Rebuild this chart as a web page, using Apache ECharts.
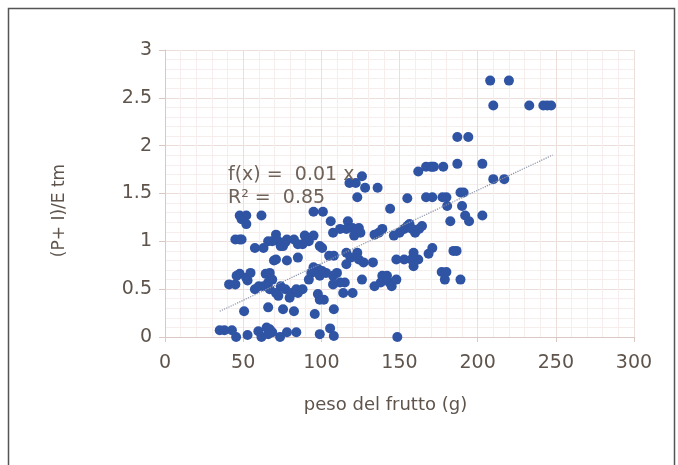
<!DOCTYPE html>
<html><head><meta charset="utf-8">
<script src="https://cdn.jsdelivr.net/npm/echarts@6/dist/echarts.min.js"></script>
<style>html,body{margin:0;padding:0;background:#fff}#c{width:678px;height:465px}</style>
</head><body><div id="c"></div>
<script>
// Fruit weight (g)
const pesoX = [
208,220,210,233,242,244.5,247,187,194,203,187,210,217,162,167,170,171,172,178,203,
189,191,190,180.5,192,194.5,182.5,167,171,177.5,180,155,144,171,168.6,184.5,186.5,177,180,179,
189,159,162,159,157.5,148,153,150,153,155,156.4,158,160,162.5,164.4,146.4,139,136.7,134,139,
142,138,143.6,145,134,148,133,127,126,136,128,126,118,122,123,117,124,120,116,112,
107.5,121,125,106,101,95,116,123,118.6,124,116,105,108,114,120,115,112,107.5,110,107.5,
103,100.5,99,97.8,95,93.6,92,99,101.6,97.8,108,95.8,99,105.6,108,89.4,95,92,99,100.5,
85,88,78,82.5,75.5,71,72.5,74,77,68.6,57.5,63,66,45,47.8,49,47.8,52,49,52,
61.7,45.8,47.8,52,54.7,41,45,50.6,52.8,57.5,60,63,64.4,67,68.6,66,67,71,72.5,74,
77,71,69.7,78,75.5,66,81,84,85,88,82.5,79.7,85,35,38,42.8,45.5,52.8,59.7,61.7,
65,67,68.6,66,73.6,78,84,148.6
];
// (P+ I)/E tm
const rapportoY = [
2.68,2.68,2.42,2.42,2.42,2.42,2.42,2.09,2.09,1.81,1.81,1.65,1.65,1.73,1.78,1.78,1.78,1.78,1.78,1.27,
1.51,1.51,1.37,1.37,1.27,1.21,1.21,1.46,1.46,1.46,1.46,1.45,1.34,0.93,0.87,0.90,0.90,0.68,0.68,0.60,
0.60,0.88,0.81,0.74,0.81,0.81,0.81,1.09,1.13,1.16,1.18,1.13,1.09,1.13,1.16,1.06,1.13,1.09,1.07,0.64,
0.64,0.57,0.57,0.53,0.53,0.60,0.78,0.78,0.60,1.56,1.56,1.68,1.61,1.61,1.46,1.21,1.14,1.14,1.13,1.13,
1.09,1.06,1.09,1.21,1.31,1.31,0.88,0.88,0.83,0.81,0.76,0.85,0.85,0.46,0.46,0.57,0.57,0.55,0.67,0.64,
0.67,0.69,0.64,0.71,0.73,0.67,0.60,0.39,0.39,0.45,0.29,0.24,0.03,0.09,0.01,1.06,1.06,1.00,0.95,0.93,
0.97,0.97,1.02,1.02,0.95,1.07,1.00,0.95,0.99,1.00,0.93,0.93,1.00,1.02,1.02,1.02,1.27,1.27,1.23,1.18,
1.27,0.64,0.66,0.62,0.67,0.55,0.55,0.27,0.59,0.50,0.53,0.53,0.66,0.67,0.60,0.57,0.50,0.46,0.43,0.53,
0.50,0.81,0.80,0.80,0.29,0.31,0.46,0.50,0.46,0.50,0.27,0.41,0.83,0.07,0.07,0.07,0.00,0.02,0.06,0.00,
0.10,0.08,0.05,0.03,0.00,0.05,0.05,0.00
];
// Trend line
const trendXRange = [35, 248];
const trendSlope = [0.00767];
const trendIntercept = [0.0];
const xTicks = [0, 300, 50];
const yTicks = [0, 3, 0.5];
const eqLines = ['f(x) =  0.01 x', 'R\u00b2 =  0.85'];
const xName = 'peso del frutto (g)';
const yName = '(P+ I)/E tm';

const pts = pesoX.map((x, i) => [x, rapportoY[i]]);
const trend = trendXRange.map(x => [x, trendIntercept[0] + trendSlope[0] * x]);

const font = '"DejaVu Sans", "Open Sans", sans-serif';
const txt = '#5e544c';
const chart = echarts.init(document.getElementById('c'), null, {renderer: 'canvas'});
chart.setOption({
  animation: false,
  backgroundColor: '#ffffff',
  grid: {left: 165, right: 44, top: 50, bottom: 128, containLabel: false},
  xAxis: {
    type: 'value', min: xTicks[0], max: xTicks[1], interval: xTicks[2],
    name: xName, nameLocation: 'middle', nameGap: 59,
    nameTextStyle: {fontFamily: font, fontSize: 18, color: txt, padding: [0, 28, 0, 0]},
    axisLine: {show: true, lineStyle: {color: '#d9c8c4', width: 1}},
    axisTick: {show: true, length: 5, lineStyle: {color: '#d9c8c4'}},
    axisLabel: {fontFamily: font, fontSize: 19, color: txt, margin: 17},
    splitLine: {show: true, lineStyle: {color: '#ecdedb', width: 1}},
    minorTick: {show: false, splitNumber: 5},
    minorSplitLine: {show: true, lineStyle: {color: '#f5eeed', width: 1}}
  },
  yAxis: {
    type: 'value', min: yTicks[0], max: yTicks[1], interval: yTicks[2],
    name: yName, nameLocation: 'middle', nameGap: 97, nameRotate: 90,
    nameTextStyle: {fontFamily: font, fontSize: 17, color: txt, padding: [0, 34, 0, 0]},
    axisLine: {show: true, lineStyle: {color: '#d9c8c4', width: 1}},
    axisTick: {show: true, length: 6, lineStyle: {color: '#d9c8c4'}},
    axisLabel: {fontFamily: font, fontSize: 19, color: txt, margin: 13},
    splitLine: {show: true, lineStyle: {color: '#ecdedb', width: 1}},
    minorTick: {show: false, splitNumber: 5},
    minorSplitLine: {show: true, lineStyle: {color: '#f5eeed', width: 1}}
  },
  series: [
    {
      type: 'scatter', data: pts, symbol: 'circle', symbolSize: 10,
      itemStyle: {color: '#3054a4', opacity: 1}, z: 3
    },
    {
      type: 'line', data: trend, symbol: 'none',
      lineStyle: {color: '#8a93a8', width: 1.2, type: 'dotted'}, z: 4
    }
  ],
  graphic: [
    {type: 'rect', shape: {x: 8.5, y: 8.5, width: 666, height: 470}, style: {fill: 'none', stroke: '#555555', lineWidth: 1.5}, silent: true},
    {type: 'text', left: 228, top: 166, style: {text: eqLines[0], fontFamily: font, fontSize: 19, fill: '#6e6259'}, z: 10},
    {type: 'text', left: 228, top: 189, style: {text: eqLines[1], fontFamily: font, fontSize: 19, fill: '#6e6259'}, z: 10}
  ]
});
</script></body></html>
